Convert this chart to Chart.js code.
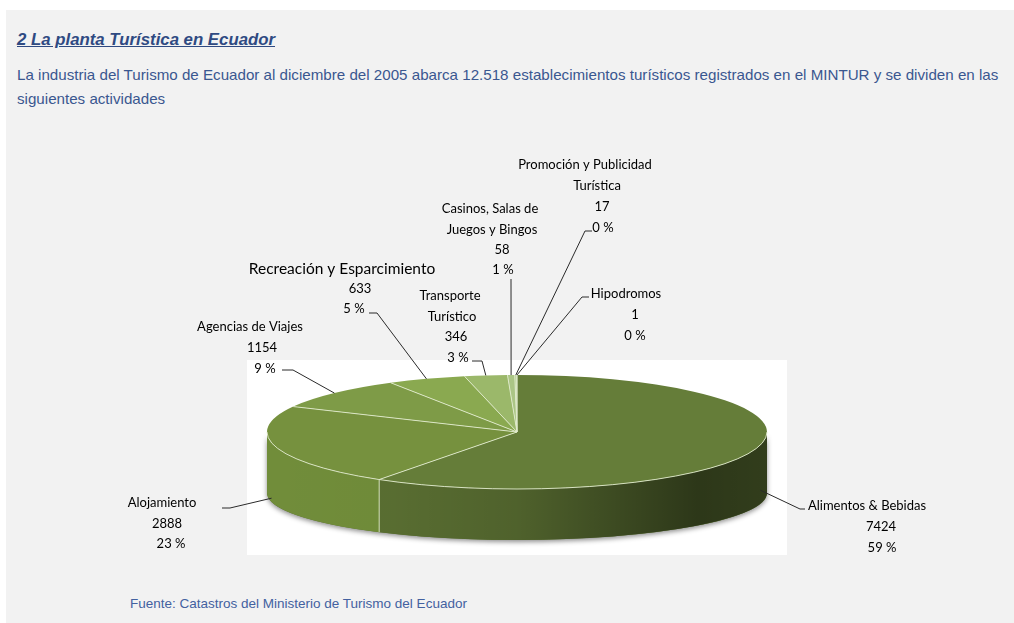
<!DOCTYPE html>
<html>
<head>
<meta charset="utf-8">
<script src="https://cdn.jsdelivr.net/npm/chart.js@4/dist/chart.umd.min.js"></script>
<style>
  html, body { margin: 0; padding: 0; overflow: hidden; background: #fff; }
  body { width: 1014px; height: 623px; position: relative; font-family: "Liberation Sans", Arial, sans-serif; }
  #panel { position: absolute; left: 6px; top: 10px; right: 0; bottom: 0; background: #f2f2f2; }
  #plotBg { position: absolute; left: 247px; top: 360px; width: 540px; height: 195px; background: #fff; }
  #title { position: absolute; left: 17px; top: 30px; font-size: 16.8px; font-weight: bold; font-style: italic; text-decoration: underline; color: #2f4a82; white-space: nowrap; }
  #intro { position: absolute; left: 17px; top: 63px; font-size: 15.15px; line-height: 24px; color: #3a5790; white-space: nowrap; }
  #source { position: absolute; left: 130px; top: 596px; font-size: 13.5px; color: #4361a0; white-space: nowrap; }
  canvas { position: absolute; left: 0; top: 0; }
</style>
</head>
<body>
<div id="panel"></div>
<div id="plotBg"></div>
<div id="title">2 La planta Turística en Ecuador</div>
<div id="intro">La industria del Turismo de Ecuador al diciembre del 2005 abarca 12.518 establecimientos turísticos registrados en el MINTUR y se dividen en las<br>siguientes actividades</div>
<div id="source">Fuente: Catastros del Ministerio de Turismo del Ecuador</div>
<canvas id="pie" width="1014" height="623" style="width:1014px;height:623px"></canvas>
<script>
// datos
var categorias = ["Alimentos & Bebidas", "Alojamiento", "Agencias de Viajes", "Recreación y Esparcimiento",
    "Transporte Turístico", "Casinos, Salas de Juegos y Bingos", "Promoción y Publicidad Turística", "Hipodromos"];
var establecimientos = [7424, 2888, 1154, 633, 346, 58, 17, 1];
var porcentajes = ["59 %", "23 %", "9 %", "5 %", "3 %", "1 %", "0 %", "0 %"];

// colores de la cara superior y del costado
var colorTapa = ["#657d39", "#76913e", "#7e9b47", "#8aa950", "#9bb86a", "#abc585", "#b8d096", "#c5dba5"];
var colorCostado = ["#5a6f32", "#718d3a", "#7a9743", "#86a44c", "#96b365", "#a6c080", "#b3cb91", "#c0d6a0"];

// elipse 3D
var cx = 517, cy = 432, rx = 250, ry = 57;
var cyB = 493, ryB = 47;

// posicion de las etiquetas y lineas guia
var etiquetas = [
    { lineas: ["Alimentos & Bebidas"], x: 867, y: 506, extra: [[881, 527], [882, 548]], guia: [805, 509, 800], caida: 0.72 },
    { lineas: ["Alojamiento"], x: 162, y: 503, extra: [[167, 524], [171, 544]], guia: [222, 508, 230], caida: 0.88 },
    { lineas: ["Agencias de Viajes"], x: 250, y: 327, extra: [[262, 348], [265, 369]], guia: [282, 370, 293] },
    { lineas: ["Recreación y Esparcimiento"], x: 342, y: 269, big: true, extra: [[360, 289], [354, 309]], guia: [369, 313, 377] },
    { lineas: ["Transporte", "Turístico"], x: 450, y: 296, extra: [[456, 337], [458, 358]], guia: [472, 361, 482] },
    { lineas: ["Casinos, Salas de", "Juegos y Bingos"], x: 490, y: 209, extra: [[502, 250], [503, 270]], guia: [511, 279, 511] },
    { lineas: ["Promoción y Publicidad", "Turística"], x: 585, y: 165, extra: [[602, 207], [603, 228]], guia: [592, 231, 585], sub: [597] },
    { lineas: ["Hipodromos"], x: 626, y: 294, extra: [[635, 315], [635, 336]], guia: [589, 297, 582] }
];

function tramoFrontal(s, e) {
    var lo = Math.max(s, 0), hi = Math.min(e, Math.PI);
    return hi > lo ? [lo, hi] : null;
}

var pie3d = {
    id: 'pie3d',
    beforeDatasetsDraw: function(chart) {
        var ctx = chart.ctx;
        var arcs = chart.getDatasetMeta(0).data;

        // sombra del costado
        ctx.save();
        ctx.shadowColor = 'rgba(0,0,0,0.45)';
        ctx.shadowBlur = 5;
        ctx.shadowOffsetY = 2;
        ctx.beginPath();
        ctx.ellipse(cx, cy, rx, ry, 0, 0, Math.PI, false);
        ctx.ellipse(cx, cyB, rx, ryB, 0, Math.PI, 0, true);
        ctx.closePath();
        ctx.fillStyle = '#5a6f32';
        ctx.fill();
        ctx.restore();

        // costados
        arcs.forEach(function(a, i) {
            var t = tramoFrontal(a.startAngle, a.endAngle);
            if (!t) return;
            ctx.beginPath();
            ctx.ellipse(cx, cy, rx, ry, 0, t[0], t[1], false);
            ctx.ellipse(cx, cyB, rx, ryB, 0, t[1], t[0], true);
            ctx.closePath();
            ctx.fillStyle = colorCostado[i];
            ctx.fill();
        });
        // oscurecer hacia la derecha
        var g = ctx.createLinearGradient(cx - rx, 0, cx + rx, 0);
        g.addColorStop(0, 'rgba(0,0,0,0)');
        g.addColorStop(0.25, 'rgba(0,0,0,0.02)');
        g.addColorStop(0.5, 'rgba(0,0,0,0.12)');
        g.addColorStop(0.86, 'rgba(0,0,0,0.5)');
        g.addColorStop(1, 'rgba(0,0,0,0.45)');
        ctx.beginPath();
        ctx.ellipse(cx, cy, rx, ry, 0, 0, Math.PI, false);
        ctx.ellipse(cx, cyB, rx, ryB, 0, Math.PI, 0, true);
        ctx.closePath();
        ctx.fillStyle = g;
        ctx.fill();

        // tapa: aplastar el pastel de Chart.js
        var a0 = arcs[0];
        ctx.save();
        ctx.translate(cx, cy);
        ctx.scale(rx / a0.outerRadius, ry / a0.outerRadius);
        ctx.translate(-a0.x, -a0.y);
    },
    afterDatasetsDraw: function(chart) {
        var ctx = chart.ctx;
        ctx.restore();
        var arcs = chart.getDatasetMeta(0).data;

        ctx.save();
        ctx.strokeStyle = 'rgba(225,235,205,0.9)';
        ctx.lineWidth = 1;
        // borde frontal de la tapa
        ctx.beginPath();
        ctx.ellipse(cx, cy, rx, ry, 0, 0, Math.PI, false);
        ctx.stroke();
        arcs.forEach(function(a) {
            var ang = a.startAngle;
            ctx.beginPath();
            ctx.moveTo(cx, cy);
            ctx.lineTo(cx + rx * Math.cos(ang), cy + ry * Math.sin(ang));
            if (Math.sin(ang) > 0.01) {
                ctx.lineTo(cx + rx * Math.cos(ang), cyB + ryB * Math.sin(ang));
            }
            ctx.stroke();
        });
        ctx.restore();
    },
    afterDraw: function(chart) {
        var ctx = chart.ctx;
        var arcs = chart.getDatasetMeta(0).data;
        ctx.save();
        ctx.textAlign = 'center';
        ctx.textBaseline = 'middle';
        ctx.fillStyle = '#000';
        ctx.strokeStyle = '#2a2a2a';
        ctx.lineWidth = 1;
        etiquetas.forEach(function(e, i) {
            ctx.font = e.big ? '15.5px Lato, sans-serif' : '13px Lato, sans-serif';
            e.lineas.forEach(function(l, k) {
                var x = (k > 0 && e.sub) ? e.sub[k - 1] : e.x;
                ctx.fillText(l, k > 0 && !e.sub ? e.x + 2 : x, e.y + k * 20.5);
            });
            ctx.font = '13px Lato, sans-serif';
            ctx.fillText(String(establecimientos[i]), e.extra[0][0], e.extra[0][1]);
            ctx.fillText(porcentajes[i], e.extra[1][0], e.extra[1][1]);

            // linea guia hacia el sector
            var a = arcs[i];
            var mid = (a.startAngle + a.endAngle) / 2;
            var px = cx + rx * Math.cos(mid);
            var py = cy + ry * Math.sin(mid);
            if (e.caida) {
                var pyB = cyB + ryB * Math.sin(mid);
                py = py + (pyB - py) * e.caida;
                px += Math.cos(mid) > 0 ? 4 : -4;
            }
            ctx.beginPath();
            ctx.moveTo(e.guia[0], e.guia[1]);
            ctx.lineTo(e.guia[2], e.guia[1]);
            ctx.lineTo(px, py);
            ctx.stroke();
        });
        ctx.restore();
    }
};

var ctx = document.getElementById("pie");
var grafico = new Chart(ctx, {
    type: 'pie',
    data: {
        labels: categorias,
        datasets: [{
            data: establecimientos,
            backgroundColor: colorTapa,
            borderWidth: 0,
            clip: false
        }]
    },
    options: {
        responsive: false,
        animation: false,
        events: [],
        plugins: {
            legend: { display: false },
            tooltip: { enabled: false }
        }
    },
    plugins: [pie3d]
});
</script>
</body>
</html>
